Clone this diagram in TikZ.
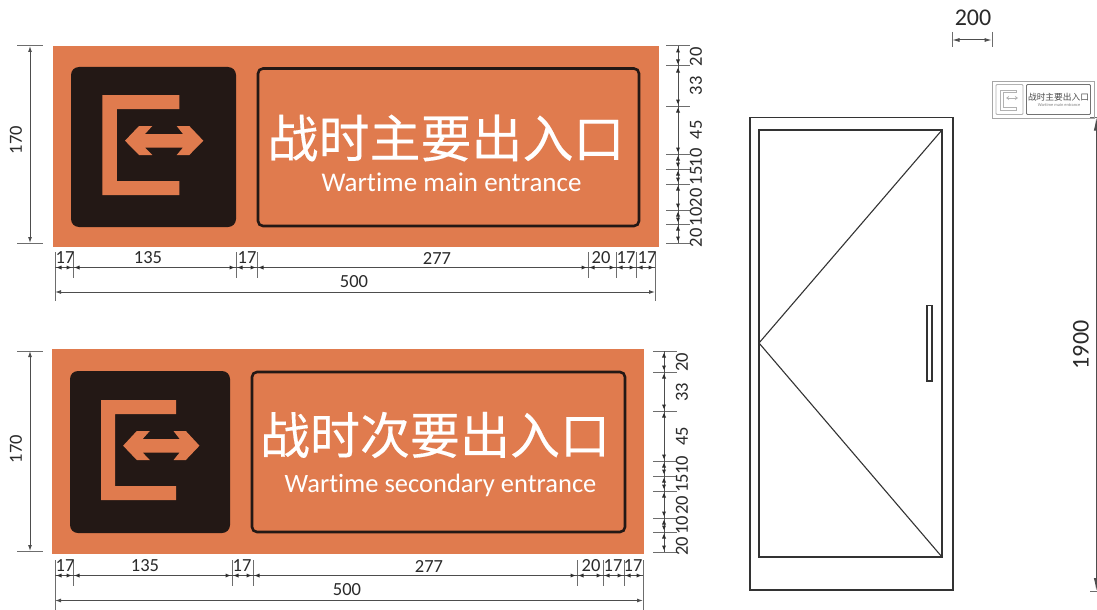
\documentclass[tikz,border=0pt]{standalone}
\usepackage{fontspec}
\setmainfont[RawFeature={-liga;-dlig;-clig}]{Carlito}
\newfontfamily\cjk[FakeBold=0.25]{Noto Sans CJK SC}
\newfontfamily\cjkmini{Noto Sans CJK SC}
\definecolor{signor}{HTML}{E07B4E}
\definecolor{signbk}{HTML}{231815}
\definecolor{dimln}{HTML}{2E2E2E}
\definecolor{dimtx}{HTML}{2A2A2A}
\tikzset{
  signbg/.style={fill=signor,draw=none},
  panel/.style={fill=signbk,draw=none,rounded corners=8},
  titlebox/.style={fill=signor,draw=signbk,line width=2.6,rounded corners=5},
  icon/.style={fill=signor,draw=none},
  dimline/.style={draw=dimln!85,line width=1},
  tickline/.style={draw=dimln!70,line width=1},
  dimlabel/.style={text=dimtx,font=\fontsize{18.5}{18.5}\selectfont,inner sep=0},
  doorline/.style={draw=black!80,line width=1.1},
}
\newcommand{\hh}[1]{% heads either side of a vertical tick named #1
  \fill[dimln] ($(#1)+(-2,0)$) -- ++(-4.5,-2) -- ++(0,4) -- cycle;
  \fill[dimln] ($(#1)+(2,0)$) -- ++(4.5,-2) -- ++(0,4) -- cycle;}
\newcommand{\vh}[1]{% heads either side of a horizontal tick named #1
  \fill[dimln] ($(#1)+(0,-2)$) -- ++(-2,-4.5) -- ++(4,0) -- cycle;
  \fill[dimln] ($(#1)+(0,2)$) -- ++(-2,4.5) -- ++(4,0) -- cycle;}
\newcommand{\exitfig}[3]{% x-offset, y-offset, xscale
  \begin{scope}[shift={(#1,#2)},xscale=#3]
    \fill[icon] (0,0) -- (77,0) -- (77,14) -- (14.5,14) -- (14.5,86) -- (77,86) -- (77,100) -- (0,100) -- cycle;
    \fill[icon] (22.7,45.7) -- (36.7,31) -- (50,31) -- (42.7,39) -- (80.7,39) -- (74.4,31) -- (87,31) -- (101,45.7) -- (87,60) -- (74.4,60) -- (80.7,52.5) -- (42.7,52.5) -- (50,60) -- (36.7,60) -- cycle;
  \end{scope}}
\usetikzlibrary{calc,arrows.meta}
\begin{document}
\begin{tikzpicture}[x=1pt,y=-1pt]
\useasboundingbox (0,0) rectangle (1097,610);
\fill[white] (0,0) rectangle (1097,610);

% ---------- sign 1
\fill[signbg] (53,46) rectangle (659,247);
\fill[panel] (71,67) rectangle (236,227);
\exitfig{102.3}{95}{1}
\draw[titlebox] (258,68.5) rectangle (639,226);
\node[text=white,inner sep=0,font=\cjk\fontsize{51}{51}\selectfont] (t1) at (446,138) {战时主要出入口};
\node[text=white,inner sep=0,font=\fontsize{27}{27}\selectfont] (e1) at (451.5,182) {Wartime main entrance};

% left dimension sign 1
\coordinate (la1) at (30,46); \coordinate (la2) at (30,243);
\draw[tickline] (17,46) -- (43,46) (17,243) -- (43,243);
\draw[dimline,{Latex[length=6,width=4]}-{Latex[length=6,width=4]}] (la1) -- (la2);
\node[dimlabel,rotate=90] (l170a) at (16,140) {170};

% right dimension sign 1
\foreach \n/\y in {ra0/46,ra1/66,ra2/106,ra3/154,ra4/169,ra5/184,ra6/210,ra7/224,ra8/243}{
  \coordinate (\n) at (678,\y);
  \draw[tickline] (666,\y) -- (690,\y);}
\draw[dimline] (ra0) -- (ra8);
\foreach \n in {ra1,ra2,ra3,ra4,ra5,ra6,ra7}{\vh{\n}}
\fill[dimln] ($(ra0)+(0,2)$) -- ++(-2,4.5) -- ++(4,0) -- cycle;
\fill[dimln] ($(ra8)+(0,-2)$) -- ++(-2,-4.5) -- ++(4,0) -- cycle;
\foreach \t/\y [count=\i] in {20/57,33/86,45/130,10/158,15/176,20/198,10/217,20/238}{
  \node[dimlabel,rotate=90] (rta\i) at (696,\y) {\t};}

% bottom dimension sign 1
\foreach \n/\x in {ba0/55,ba1/73,ba2/236,ba3/257,ba4/588,ba5/616,ba6/636,ba7/655}{
  \coordinate (\n) at (\x,267.5);
  \draw[tickline] (\x,252) -- (\x,278);}
\draw[dimline] (ba0) -- (ba7);
\foreach \n in {ba1,ba2,ba3,ba4,ba5,ba6}{\hh{\n}}
\fill[dimln] ($(ba0)+(2,0)$) -- ++(4.5,-2) -- ++(0,4) -- cycle;
\fill[dimln] ($(ba7)+(-2,0)$) -- ++(-4.5,-2) -- ++(0,4) -- cycle;
\foreach \t/\x [count=\i] in {17/65,135/148,17/247,277/437,20/601,17/626,17/647}{
  \node[dimlabel] (bta\i) at (\x,258) {\t};}
\draw[tickline] (55,278) -- (55,301) (655,278) -- (655,301);
\coordinate (oa1) at (55,292); \coordinate (oa2) at (655,292);
\draw[dimline,{Latex[length=6,width=4]}-{Latex[length=6,width=4]}] (oa1) -- (oa2);
\node[dimlabel] (ota) at (354,281.5) {500};

% ---------- sign 2
\fill[signbg] (52,349) rectangle (644,554);
\fill[panel] (70,371) rectangle (230,533);
\exitfig{101}{400}{0.975}
\draw[titlebox] (252,372) rectangle (625,532);
\node[text=white,inner sep=0,font=\cjk\fontsize{50}{50}\selectfont] (t2) at (435,435) {战时次要出入口};
\node[text=white,inner sep=0,font=\fontsize{26.5}{26}\selectfont] (e2) at (440.5,485) {Wartime secondary entrance};

% left dimension sign 2
\coordinate (lb1) at (30,351); \coordinate (lb2) at (30,551);
\draw[tickline] (17,351) -- (43,351) (17,551) -- (43,551);
\draw[dimline,{Latex[length=6,width=4]}-{Latex[length=6,width=4]}] (lb1) -- (lb2);
\node[dimlabel,rotate=90] (l170b) at (16,449) {170};

% right dimension sign 2
\foreach \n/\y in {rb0/351,rb1/372,rb2/411,rb3/461,rb4/476,rb5/491,rb6/518,rb7/532,rb8/552}{
  \coordinate (\n) at (664,\y);
  \draw[tickline] (653,\y) -- (677,\y);}
\draw[dimline] (rb0) -- (rb8);
\foreach \n in {rb1,rb2,rb3,rb4,rb5,rb6,rb7}{\vh{\n}}
\fill[dimln] ($(rb0)+(0,2)$) -- ++(-2,4.5) -- ++(4,0) -- cycle;
\fill[dimln] ($(rb8)+(0,-2)$) -- ++(-2,-4.5) -- ++(4,0) -- cycle;
\foreach \t/\y [count=\i] in {20/362,33/392,45/436,10/465,15/483,20/505,10/525,20/546}{
  \node[dimlabel,rotate=90] (rtb\i) at (682,\y) {\t};}

% bottom dimension sign 2
\foreach \n/\x in {bb0/55,bb1/73,bb2/232,bb3/253,bb4/577,bb5/603,bb6/624,bb7/643}{
  \coordinate (\n) at (\x,575.5);
  \draw[tickline] (\x,560) -- (\x,586);}
\draw[dimline] (bb0) -- (bb7);
\foreach \n in {bb1,bb2,bb3,bb4,bb5,bb6}{\hh{\n}}
\fill[dimln] ($(bb0)+(2,0)$) -- ++(4.5,-2) -- ++(0,4) -- cycle;
\fill[dimln] ($(bb7)+(-2,0)$) -- ++(-4.5,-2) -- ++(0,4) -- cycle;
\foreach \t/\x [count=\i] in {17/65,135/145,17/242,277/429,20/591,17/613,17/633}{
  \node[dimlabel] (btb\i) at (\x,566) {\t};}
\draw[tickline] (55,586) -- (55,610) (643,586) -- (643,610);
\coordinate (ob1) at (55,600.5); \coordinate (ob2) at (643,600.5);
\draw[dimline,{Latex[length=6,width=4]}-{Latex[length=6,width=4]}] (ob1) -- (ob2);
\node[dimlabel] (otb) at (347,590) {500};

% ---------- door
\draw[doorline] (750,117.5) rectangle (953,590);
\draw[doorline] (759,130) rectangle (942,557);
\coordinate (hinge) at (759,343); \coordinate (dt) at (942,130); \coordinate (db) at (942,557);
\draw[doorline] (dt) -- (hinge) -- (db);
\draw[doorline] (927,305.5) rectangle (932,381);

% 200 dimension
\coordinate (w1) at (952,40); \coordinate (w2) at (992,40);
\draw[tickline] (952,32) -- (952,47) (992,32) -- (992,47);
\draw[dimline,{Latex[length=7.5,width=4]}-{Latex[length=7.5,width=4]}] (w1) -- (w2);
\node[dimlabel,font=\fontsize{24}{24}\selectfont] (w200) at (973,18) {200};

% 1900 dimension
\coordinate (h1) at (1096.3,117.5); \coordinate (h2) at (1096.3,591);
\draw[tickline] (1090,117.5) -- (1097,117.5) (1090,591) -- (1097,591);
\draw[dimline,{Latex[length=13,width=5]}-{Latex[length=13,width=5]}] (h1) -- (h2);
\node[dimlabel,font=\fontsize{24}{24}\selectfont,rotate=90] (h1900) at (1081,345) {1900};

% ---------- mini sign
\draw[draw=black!35,line width=0.8] (992.5,81) rectangle (1094.5,118);
\draw[draw=black!30,line width=0.8,rounded corners=1] (996,84.5) rectangle (1023,114.5);
\draw[draw=black!55,line width=0.8,rounded corners=1] (1026.5,84.5) rectangle (1090.5,114.5);
\node[text=black!70,inner sep=0,font=\cjkmini\fontsize{8.7}{9}\selectfont] (mt) at (1058.5,97) {战时主要出入口};
\node[text=black!50,inner sep=0,font=\fontsize{4.4}{4.4}\selectfont] (me) at (1059,105.5) {Wartime main entrance};
\draw[draw=black!30,line width=0.6] (1016,90) -- (1000,90) -- (1000,110) -- (1016,110) -- (1016,107.5) -- (1003,107.5) -- (1003,92.5) -- (1016,92.5) -- cycle;
\draw[draw=black!30,line width=0.5,{Stealth[length=3,width=4,open]}-{Stealth[length=3,width=4,open]}] (1006,98) -- (1018,98);
\end{tikzpicture}
\end{document}
